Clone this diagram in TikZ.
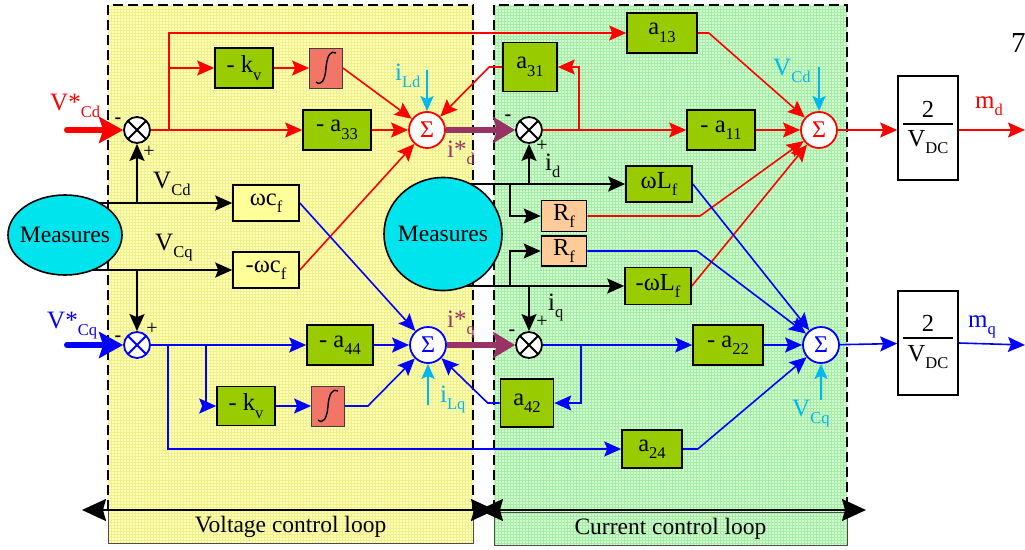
\documentclass[tikz,border=0pt]{standalone}
\usepackage{fontspec}
\setmainfont{Liberation Serif}
\usetikzlibrary{arrows.meta,shapes.geometric}
\pgfdeclarelayer{bgl}
\pgfdeclarelayer{edges}
\pgfsetlayers{bgl,edges,main}
\definecolor{ybg}{RGB}{255,255,184}
\definecolor{ygrid}{RGB}{240,240,140}
\definecolor{gbg}{RGB}{210,255,210}
\definecolor{ggrid}{RGB}{165,236,165}
\definecolor{boxgreen}{RGB}{153,204,0}
\definecolor{boxyellow}{RGB}{255,255,153}
\definecolor{boxpeach}{RGB}{255,204,153}
\definecolor{intred}{RGB}{242,118,104}
\definecolor{measc}{RGB}{0,228,238}
\definecolor{cyanl}{RGB}{0,184,240}
\definecolor{purp}{RGB}{153,51,102}
\newcommand\sbx[1]{\raisebox{-0.3em}{\fontsize{16.5}{17}\selectfont #1}}
\begin{document}
\begin{tikzpicture}[x=1pt,y=-1pt,
  blk/.style={draw=black, line width=1.6pt, inner sep=0pt, font=\fontsize{24.5}{26}\selectfont},
  gbox/.style={blk, fill=boxgreen},
  ybox/.style={blk, fill=boxyellow},
  rbox/.style={blk, fill=boxpeach},
  wbox/.style={blk, fill=white},
  ibox/.style={draw=black!75, line width=0.8pt, fill=intred, minimum width=33pt, minimum height=40pt, inner sep=0pt},
  sumd/.style={circle, draw=red, fill=white, line width=1.8pt, minimum size=36pt, inner sep=0pt, text=red, font=\fontsize{24}{24}\selectfont},
  sumq/.style={sumd, draw=blue, text=blue},
  junc/.style={circle, draw=#1, fill=white, line width=1.8pt, minimum size=26pt, inner sep=0pt,
    path picture={\draw[#1, line width=1.8pt] (path picture bounding box.north west) -- (path picture bounding box.south east) (path picture bounding box.north east) -- (path picture bounding box.south west);}},
  meas/.style={ellipse, draw=black, line width=1.6pt, fill=measc, inner sep=0pt, font=\fontsize{23.5}{24}\selectfont},
  lab/.style={inner sep=0pt, anchor=base west, font=\fontsize{25}{26}\selectfont},
  sgn/.style={inner sep=0pt, font=\fontsize{20}{20}\selectfont},
  arr/.style={-{Stealth[length=17pt,width=15pt,inset=3pt]}},
  carr/.style={-{Stealth[length=15pt,width=13pt,inset=3pt]}, draw=cyanl, line width=2pt},
  rl/.style={draw=red, line width=1.6pt},
  bl/.style={draw=blue, line width=1.6pt},
  kl/.style={draw=black, line width=1.8pt},
  pl/.style={draw=purp, line width=6pt, -{Stealth[length=22pt,width=26pt,inset=4pt]}},
  thk/.style={line width=6pt, line cap=round, -{Stealth[length=24pt,width=26pt,inset=4pt]}},
  regb/.style={draw=black, line width=2pt, dash pattern=on 10pt off 5pt},
  lbox/.style={draw=black!70, line width=1pt, inner sep=0pt, font=\fontsize{23.5}{24}\selectfont},
  dimarr/.style={draw=black, line width=2pt, {Stealth[length=24pt,width=22pt,inset=3pt]}-{Stealth[length=24pt,width=22pt,inset=3pt]}},
  integ/.pic={\draw[line width=1.4pt] (-10,14) .. controls (-5,18) and (-1,13) .. (0,0) .. controls (1,-13) and (5,-18) .. (10,-15);}
]
\useasboundingbox (0,0) rectangle (1025,549);

% ---------- regions ----------
\begin{pgfonlayer}{bgl}
\fill[ybg] (108,5) rectangle (473,543);
\draw[ygrid, line width=0.4pt, step=3pt] (108,5) grid (473,543);
\fill[gbg] (494,5) rectangle (847,545);
\draw[ggrid, line width=0.4pt, step=3pt] (494,5) grid (847,545);
\draw[regb] (108,510) -- (108,5) -- (473,5) -- (473,510);
\draw[regb] (494,510) -- (494,5) -- (847,5) -- (847,510);
\end{pgfonlayer}

% ---------- blocks ----------
\node[gbox, minimum width=58pt, minimum height=40pt] (kv1) at (244,68) {- k\sbx{v}};
\node[ibox] (int1) at (326,68) {};
\pic at (int1.center) {integ};
\node[gbox, minimum width=68pt, minimum height=40pt] (a33) at (337,130) {- a\sbx{33}};
\node[ybox, minimum width=66pt, minimum height=36pt] (wcf) at (266,203) {ωc\sbx{f}};
\node[ybox, minimum width=66pt, minimum height=36pt] (mwcf) at (266,270) {-ωc\sbx{f}};
\node[gbox, minimum width=66pt, minimum height=40pt] (a44) at (340,345) {- a\sbx{44}};
\node[gbox, minimum width=58pt, minimum height=39pt] (kv2) at (246,406) {- k\sbx{v}};
\node[ibox] (int2) at (328,406) {};
\pic at (int2.center) {integ};
\node[gbox, minimum width=70pt, minimum height=40pt] (a13) at (662,33) {a\sbx{13}};
\node[gbox, minimum width=54pt, minimum height=49pt] (a31) at (530,67) {a\sbx{31}};
\node[gbox, minimum width=68pt, minimum height=40pt] (a11) at (721,130) {- a\sbx{11}};
\node[gbox, minimum width=66pt, minimum height=36pt] (wLf) at (659,184) {ωL\sbx{f}};
\node[rbox, minimum width=45pt, minimum height=31pt] (Rf1) at (564,216) {R\sbx{f}};
\node[rbox, minimum width=45pt, minimum height=30pt] (Rf2) at (564,251) {R\sbx{f}};
\node[gbox, minimum width=66pt, minimum height=37pt] (mwLf) at (658,286) {-ωL\sbx{f}};
\node[gbox, minimum width=70pt, minimum height=40pt] (a22) at (728,345) {- a\sbx{22}};
\node[gbox, minimum width=53pt, minimum height=48pt] (a42) at (527,403) {a\sbx{42}};
\node[gbox, minimum width=60pt, minimum height=38pt] (a24) at (652,449) {a\sbx{24}};
\node[wbox, minimum width=60pt, minimum height=104pt] (vdc1) at (928,128) {};
\node[wbox, minimum width=60pt, minimum height=104pt] (vdc2) at (928,343) {};
\node[blk, draw=none] (vdc1n) at (928,109) {2};
\node[blk, draw=none] (vdc1d) at (928,142) {V\sbx{DC}};
\node[blk, draw=none] (vdc2n) at (928,323) {2};
\node[blk, draw=none] (vdc2d) at (928,357) {V\sbx{DC}};
\draw[line width=1.6pt] (903,124) -- (953,124);
\draw[line width=1.6pt] (903,338) -- (953,338);

% ---------- junctions and sums ----------
\node[junc=black] (J1) at (137,130) {};
\node[junc=blue] (J3) at (137,345) {};
\node[junc=black] (J2) at (529,130) {};
\node[junc=black] (J4) at (529,345) {};
\node[sumd] (Sd) at (427,130) {Σ};
\node[sumq] (Sq) at (428,345) {Σ};
\node[sumd] (SD) at (819,130) {Σ};
\node[sumq] (SQ) at (821,345) {Σ};
\node[meas, minimum width=114pt, minimum height=80pt] (ML) at (65,235) {\makebox[0pt]{Measures}};
\node[meas, minimum width=118pt, minimum height=113pt] (MR) at (443,234) {\makebox[0pt]{Measures}};

% ---------- coordinates ----------
\coordinate (vcdin) at (67,130);
\coordinate (vcqin) at (67,345);
\coordinate (r1) at (169,130);
\coordinate (r2) at (579,130);
\coordinate (r3) at (700,216);
\coordinate (b1) at (168,345);
\coordinate (b2) at (206,345);
\coordinate (b3) at (581,345);
\coordinate (b4) at (697,251);
\coordinate (k5) at (510,184);
\coordinate (k6) at (510,286);
\coordinate (iLd) at (427,70);
\coordinate (iLq) at (428,405);
\coordinate (vcd) at (819,67);
\coordinate (vcq) at (821,400);
\coordinate (mdend) at (1025,130);
\coordinate (mqend) at (1025,345);

% ---------- connectors ----------
\begin{pgfonlayer}{edges}
% red (d axis)
\draw[rl, arr] (J1) -- (a33);
\draw[rl, arr] (r1) |- (a13.west);
\draw[rl, arr] (r1 |- kv1.west) -- (kv1.west);
\draw[rl, arr] (kv1) -- (int1);
\draw[rl, arr] (int1.east) -- (Sd);
\draw[rl, arr] (a33) -- (Sd);
\draw[rl, arr] (mwcf.east) -- (Sd);
\draw[rl, arr] (a31.west) -- ++(-13,0) -- (Sd);
\draw[rl, arr] (J2) -- (a11);
\draw[rl, arr] (r2) |- (a31.east);
\draw[rl, arr] (a13.east) -- ++(11,0) -- (SD);
\draw[rl, arr] (a11) -- (SD);
\draw[rl, arr] (Rf1.east) -- (r3) -- (SD);
\draw[rl, arr] (mwLf.east) -- (SD);
\draw[rl, arr] (SD) -- (SD -| vdc1.west);
\draw[rl, arr] (SD -| vdc1.east) -- (mdend);
% blue (q axis)
\draw[bl, arr] (J3) -- (a44);
\draw[bl, arr] (b1) |- (a24.west);
\draw[bl, arr] (b2) |- (kv2.west);
\draw[bl, arr] (kv2) -- (int2);
\draw[bl, arr] (int2.east) -- ++(23,0) -- (Sq);
\draw[bl, arr] (a44) -- (Sq);
\draw[bl, arr] (wcf.east) -- (Sq);
\draw[bl, arr] (a42.west) -- ++(-12,0) -- (Sq);
\draw[bl, arr] (J4) -- (a22);
\draw[bl, arr] (b3) |- (a42.east);
\draw[bl, arr] (a22) -- (SQ);
\draw[bl, arr] (wLf.east) -- (SQ);
\draw[bl, arr] (Rf2.east) -- (b4) -- (SQ);
\draw[bl, arr] (a24.east) -- ++(15,0) -- (SQ);
\draw[bl, arr] (SQ) -- (vdc2);
\draw[bl, arr] (vdc2.east) -- (mqend);
% black measurements
\draw[kl, arr] (ML.center |- wcf) -- (wcf);
\draw[kl, arr] (ML.center |- mwcf) -- (mwcf);
\draw[kl, arr] (J1 |- wcf) -- (J1);
\draw[kl, arr] (J3 |- mwcf) -- (J3);
\draw[kl, arr] (MR.center |- wLf) -- (wLf);
\draw[kl, arr] (MR.center |- mwLf) -- (mwLf);
\draw[kl, arr] (J2 |- wLf) -- (J2);
\draw[kl, arr] (J4 |- mwLf) -- (J4);
\draw[kl, arr] (k5) |- (Rf1.west);
\draw[kl, arr] (k6) |- (Rf2.west);
% cyan disturbances
\draw[carr] (iLd) -- (Sd);
\draw[carr] (iLq) -- (Sq);
\draw[carr] (vcd) -- (SD);
\draw[carr] (vcq) -- (SQ);
% purple references
\draw[pl] (Sd) -- (J2);
\draw[pl] (Sq) -- (J4);
% thick inputs
\draw[thk, red] (vcdin) -- (J1);
\draw[thk, blue] (vcqin) -- (J3);
\end{pgfonlayer}

% ---------- labels ----------
\node[lab, red] (lvcd) at (50,110) {V*\sbx{Cd}};
\node[lab, blue] (lvcq) at (47,328) {V*\sbx{Cq}};
\node[lab] (lvcd2) at (153,188) {V\sbx{Cd}};
\node[lab] (lvcq2) at (155,250) {V\sbx{Cq}};
\node[lab] (lid) at (545,170) {i\sbx{d}};
\node[lab] (liq) at (548,310) {i\sbx{q}};
\node[lab, text=purp] (lisd) at (447,157) {i*\sbx{d}};
\node[lab, text=purp] (lisq) at (447,327) {i*\sbx{q}};
\node[lab, text=cyanl] (lild) at (395,80) {i\sbx{Ld}};
\node[lab, text=cyanl] (lilq) at (440,402) {i\sbx{Lq}};
\node[lab, text=cyanl] (lvcdc) at (773,75) {V\sbx{Cd}};
\node[lab, text=cyanl] (lvcqc) at (792,416) {V\sbx{Cq}};
\node[lab, red] (lmd) at (975,108) {m\sbx{d}};
\node[lab, blue] (lmq) at (968,327) {m\sbx{q}};
\node[lab, font=\fontsize{29}{30}\selectfont] (seven) at (1011,52) {7};
% signs
\node[sgn] (s1m) at (118,121) {\textbf{-}};
\node[sgn] (s1p) at (149,152) {+};
\node[sgn] (s3m) at (118,339) {\textbf{-}};
\node[sgn] (s3p) at (152,329) {+};
\node[sgn] (s2m) at (508,118) {\textbf{-}};
\node[sgn] (s2p) at (542,146) {+};
\node[sgn] (s4m) at (512,333) {\textbf{-}};
\node[sgn] (s4p) at (542,322) {+};

% ---------- loop labels ----------
\node[lbox, minimum width=365pt, minimum height=33pt] (vloop) at (290.5,526.5) {Voltage control loop};
\node[lbox, minimum width=353pt, minimum height=33pt] (cloop) at (670.5,528.5) {Current control loop};
\coordinate (dv1) at (82,510);
\coordinate (dv2) at (495,510);
\coordinate (dc1) at (479,510);
\coordinate (dc2) at (866,510);
\draw[dimarr] (dv1) -- (dv2);
\draw[dimarr] (dc1) -- (dc2);
\end{tikzpicture}
\end{document}
